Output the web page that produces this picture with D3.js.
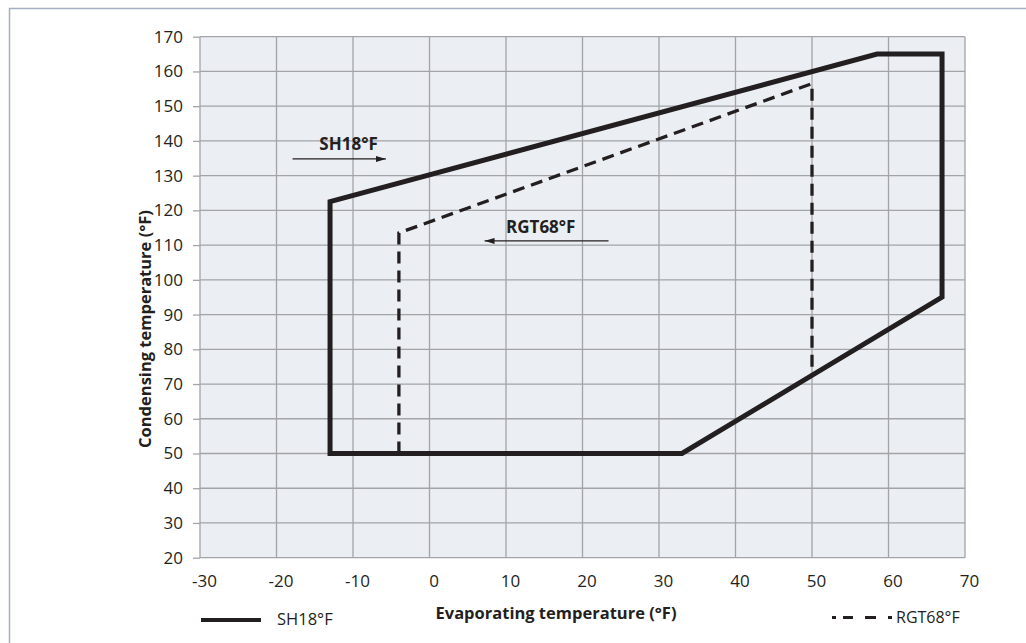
<!DOCTYPE html>
<html>
<head>
<meta charset="utf-8">
<script src="https://cdn.jsdelivr.net/npm/d3@7"></script>
<style>
  body { margin: 0; background: #fff; }
  svg { display: block; font-family: "Open Sans", "DejaVu Sans", sans-serif; }
</style>
</head>
<body>
<svg id="chart" width="1026" height="643"></svg>
<script>
// chart data
const xTicks = [-30, -20, -10, 0, 10, 20, 30, 40, 50, 60, 70];
const yTicks = [20, 30, 40, 50, 60, 70, 80, 90, 100, 110, 120, 130, 140, 150, 160, 170];

// SH18°F envelope (closed)
const shEvap = [-13, -13, 33, 67, 67, 58.5];
const shCond = [50, 122.5, 50, 95, 165, 165];
const shOrder = [0, 2, 3, 4, 5, 1];

// RGT68°F limit (open)
const rgtEvap = [-4, -4, 50, 50];
const rgtCond = [50, 113.5, 156.5, 72.5];

// annotations: label, text position, arrow from -> to
const noteLabels = ['SH18°F', 'RGT68°F'];
const noteTextX = [-14.4, 10];
const noteTextY = [137.4, 113.6];
const noteArrowFrom = [[-17.9, 134.8], [23.4, 111.2]];
const noteArrowTo = [[-5.7, 134.8], [7.2, 111.2]];

const svg = d3.select('#chart');
const margin = { top: 36.7, left: 200, right: 61, bottom: 85.3 };
const width = +svg.attr('width');
const height = +svg.attr('height');
const plotW = width - margin.left - margin.right;
const plotH = height - margin.top - margin.bottom;

const x = d3.scaleLinear().domain([-30, 70]).range([margin.left, margin.left + plotW]);
const y = d3.scaleLinear().domain([20, 170]).range([margin.top + plotH, margin.top]);

// outer frame (top + left only)
svg.append('path')
  .attr('d', `M9.5,${height} L9.5,8.5 L${width},8.5`)
  .attr('fill', 'none')
  .attr('stroke', '#a3b1c1')
  .attr('stroke-width', 1.5);

// plot background
svg.append('rect')
  .attr('x', margin.left).attr('y', margin.top)
  .attr('width', plotW).attr('height', plotH)
  .attr('fill', '#ebeef2');

// grid
const grid = svg.append('g').attr('stroke', '#a2a4a7').attr('stroke-width', 1.3);
grid.selectAll('.vx').data(xTicks).enter().append('line')
  .attr('x1', d => x(d)).attr('x2', d => x(d))
  .attr('y1', margin.top).attr('y2', margin.top + plotH);
grid.selectAll('.hy').data(yTicks).enter().append('line')
  .attr('x1', margin.left).attr('x2', margin.left + plotW)
  .attr('y1', d => y(d)).attr('y2', d => y(d));

// y axis with short outer ticks
const yAxis = d3.axisLeft(y).tickValues(yTicks).tickSize(7).tickPadding(10).tickFormat(d => String(d));
const gy = svg.append('g')
  .attr('transform', `translate(${margin.left},0)`)
  .call(yAxis);
gy.select('.domain').remove();
gy.selectAll('.tick line').attr('stroke', '#a2a4a7').attr('stroke-width', 1.3);
gy.selectAll('.tick text')
  .attr('font-size', 17).attr('fill', '#231f20')
  .attr('font-family', '"Open Sans", sans-serif');

// x axis labels only
const xAxis = d3.axisBottom(x).tickValues(xTicks).tickSize(0).tickPadding(17).tickFormat(d => String(d));
const gx = svg.append('g')
  .attr('transform', `translate(0,${margin.top + plotH})`)
  .call(xAxis);
gx.select('.domain').remove();
gx.selectAll('.tick text')
  .attr('font-size', 17).attr('fill', '#231f20').attr('dx', 4)
  .attr('font-family', '"Open Sans", sans-serif');

// RGT68 dashed limit
const line = d3.line().x(d => x(d[0])).y(d => y(d[1]));
const rgtPts = rgtEvap.map((e, i) => [e, rgtCond[i]]);
svg.append('path')
  .attr('d', line(rgtPts))
  .attr('fill', 'none')
  .attr('stroke', '#231f20')
  .attr('stroke-width', 3.3)
  .attr('stroke-dasharray', '12,7');

// SH18 envelope
const shPts = shOrder.map(i => [shEvap[i], shCond[i]]);
svg.append('path')
  .attr('d', line(shPts) + 'Z')
  .attr('fill', 'none')
  .attr('stroke', '#231f20')
  .attr('stroke-width', 5)
  .attr('stroke-linejoin', 'miter');

// arrow marker
svg.append('defs').append('marker')
  .attr('id', 'arr')
  .attr('viewBox', '0 0 10 6')
  .attr('refX', 10).attr('refY', 3)
  .attr('markerWidth', 10).attr('markerHeight', 6)
  .attr('markerUnits', 'userSpaceOnUse')
  .attr('orient', 'auto')
  .append('path').attr('d', 'M0,0 L10,3 L0,6 Z').attr('fill', '#231f20');

// annotations
noteLabels.forEach((lab, i) => {
  svg.append('line')
    .attr('x1', x(noteArrowFrom[i][0])).attr('y1', y(noteArrowFrom[i][1]))
    .attr('x2', x(noteArrowTo[i][0])).attr('y2', y(noteArrowTo[i][1]))
    .attr('stroke', '#231f20').attr('stroke-width', 1.2)
    .attr('marker-end', 'url(#arr)');
  svg.append('text')
    .attr('x', x(noteTextX[i])).attr('y', y(noteTextY[i]))
    .attr('font-size', 17).attr('font-weight', 'bold').attr('fill', '#231f20')
    .text(lab);
});

// axis titles
svg.append('text')
  .attr('x', 556).attr('y', 619)
  .attr('text-anchor', 'middle')
  .attr('font-size', 16.5).attr('font-weight', 'bold').attr('fill', '#231f20')
  .text('Evaporating temperature (°F)');

svg.append('text')
  .attr('transform', 'translate(151,329) rotate(-90)')
  .attr('text-anchor', 'middle')
  .attr('font-size', 16.5).attr('font-weight', 'bold').attr('fill', '#231f20')
  .text('Condensing temperature (°F)');

// legend
const leg = svg.append('g');
leg.append('line')
  .attr('x1', 201).attr('x2', 261).attr('y1', 620).attr('y2', 620)
  .attr('stroke', '#231f20').attr('stroke-width', 4);
leg.append('text')
  .attr('x', 277).attr('y', 625)
  .attr('font-size', 16.5).attr('fill', '#231f20')
  .text('SH18°F');
leg.append('line')
  .attr('x1', 832).attr('x2', 892).attr('y1', 617.5).attr('y2', 617.5)
  .attr('stroke', '#231f20').attr('stroke-width', 3)
  .attr('stroke-dasharray', '4,7,10,12,11,12,4');
leg.append('text')
  .attr('x', 896).attr('y', 623)
  .attr('font-size', 16).attr('fill', '#231f20')
  .text('RGT68°F');
</script>
</body>
</html>
